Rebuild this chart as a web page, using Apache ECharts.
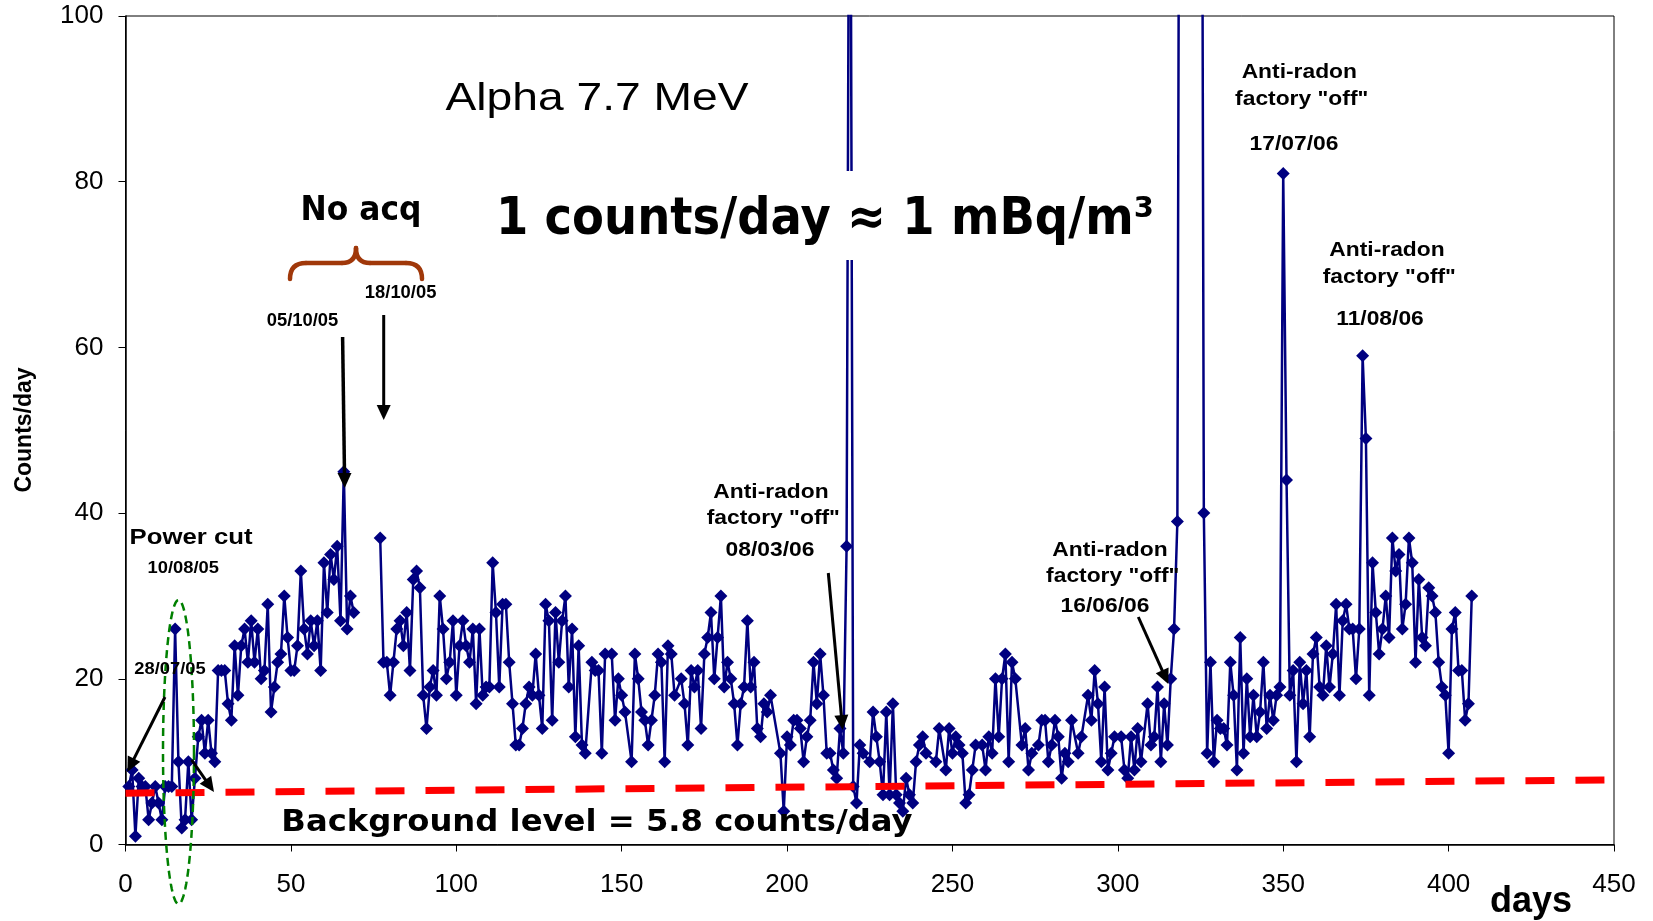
<!DOCTYPE html>
<html>
<head>
<meta charset="utf-8">
<script src="https://cdn.jsdelivr.net/npm/echarts@6/dist/echarts.min.js"></script>
<style>html,body{margin:0;padding:0;background:#fff}#c{width:1653px;height:921px}</style>
</head>
<body>
<div id="c"></div>
<script>
// ---- data ----
const days = [1,2,3,4,5,6,7,8,9,10,11,12,13,14,15,16,17,18,19,20,
  21,22,23,24,25,26,27,28,29,30,31,32,33,34,35,36,37,38,39,40,
  41,42,43,44,45,46,47,48,49,50,51,52,53,54,55,56,57,58,59,60,
  61,62,63,64,65,66,67,68,69,73,
  77,78,79,80,81,82,83,84,85,86,87,88,89,90,91,92,93,94,95,96,97,98,99,100,
  101,102,103,104,105,106,107,108,109,110,111,112,113,114,115,116,117,118,119,120,
  121,122,123,124,125,126,127,128,129,130,131,132,133,134,135,136,137,138,139,
  141,142,143,144,145,147,148,149,150,151,153,154,155,156,157,158,159,160,
  161,162,163,164,165,166,168,169,170,171,172,173,174,175,176,177,178,179,180,
  181,182,183,184,185,186,187,188,189,190,191,192,193,194,195,198,199,200,
  201,202,203,204,205,206,207,208,209,210,211,212,213,214,215,216,217,218,219,220,
  221,222,223,225,226,227,228,229,230,231,232,233,234,235,236,237,238,239,240,
  241,242,245,246,248,249,250,251,252,253,254,255,256,257,259,260,
  261,262,263,264,265,266,267,268,269,271,272,273,274,276,277,278,279,280,
  281,282,283,284,285,286,288,289,291,292,293,294,295,296,297,298,299,
  301,302,303,304,305,306,307,309,310,311,312,313,314,315,316,317,318,319,
  325,326,327,328,329,330,331,332,333,334,335,336,337,338,339,340,
  341,342,343,344,345,346,347,348,349,350,351,352,353,354,355,356,357,358,359,360,
  361,362,363,364,365,366,367,368,369,370,371,372,373,374,375,376,377,378,379,380,
  381,382,383,384,385,386,387,388,389,390,391,392,393,394,395,396,397,398,399,400,
  401,402,403,404,405,406,407];
const counts = [7,9,1,8,7,7,3,5,7,5,3,7,7,7,26,10,2,3,10,3,
  8,13,15,11,15,11,10,21,21,21,17,15,24,18,24,26,22,27,22,26,
  20,21,29,16,19,22,23,30,25,21,21,24,33,26,23,27,24,27,21,34,
  28,35,32,36,27,45,26,30,28,null,
  37,22,22,18,22,26,27,24,28,21,32,33,31,18,14,19,21,18,30,26,20,22,27,18,
  24,27,24,22,26,17,26,18,19,19,34,28,19,29,29,22,17,12,12,14,
  17,19,18,23,18,14,29,27,15,28,22,27,30,19,26,13,24,12,11,
  22,21,21,11,23,23,15,20,18,16,10,23,20,16,15,12,15,18,
  23,22,10,24,23,18,20,17,12,21,19,21,14,23,25,28,20,25,30,
  19,22,20,17,12,17,19,27,19,22,14,13,17,16,18,11,4,13,
  12,15,15,14,10,13,15,22,17,23,18,11,11,9,8,14,11,36,150,7,
  5,12,11,10,16,13,10,6,16,6,17,6,5,4,8,6,5,10,12,
  13,11,10,14,9,14,11,13,12,11,5,6,9,12,12,9,
  13,11,20,13,20,23,10,22,20,12,14,9,11,12,15,15,10,12,
  15,13,8,11,10,15,11,13,18,15,21,17,10,19,9,11,13,
  13,9,8,13,9,14,10,17,12,13,19,10,17,12,20,26,39,200,
  200,40,11,22,10,15,14,14,12,22,18,9,25,11,20,13,
  18,13,16,22,14,18,15,18,19,81,44,18,21,10,22,17,21,13,23,25,
  19,18,24,19,23,29,18,27,29,26,26,20,26,59,49,18,34,28,23,26,
  30,25,37,33,35,26,29,37,34,22,32,25,24,31,30,28,22,19,18,11,
  26,28,21,21,15,17,30];
const bgDays = [0, 450];
const bgLevels = [6.2, 7.8];
const xTicks = {min: 0, max: 450, step: 50};
const yTicks = {min: 0, max: 100, step: 20};

// ---- chart ----
const chart = echarts.init(document.getElementById('c'), null, {renderer: 'canvas'});

function arrow(x1, y1, x2, y2, w) {
  const dx = x2 - x1, dy = y2 - y1, L = Math.hypot(dx, dy), ux = dx / L, uy = dy / L;
  const hl = 15, hw = 7;
  const bx = x2 - ux * hl, by = y2 - uy * hl;
  return [
    {type: 'line', z: 100, shape: {x1: x1, y1: y1, x2: bx + ux * 2, y2: by + uy * 2}, style: {stroke: '#000', lineWidth: w || 3}},
    {type: 'polygon', z: 100, shape: {points: [[x2, y2], [bx - uy * hw, by + ux * hw], [bx + uy * hw, by - ux * hw]]}, style: {fill: '#000'}}
  ];
}
function txt(x, y, text, font, sx, extra) {
  return Object.assign({
    type: 'text', x: x, y: y, scaleX: sx || 1, z: 101,
    style: {text: text, font: font, fill: '#000', align: 'center', verticalAlign: 'middle'}
  }, extra || {});
}
function ellipsePts(cx, cy, rx, ry) {
  const pts = [];
  for (let k = 0; k <= 96; k++) {
    const t = k / 96 * Math.PI * 2;
    pts.push([cx + rx * Math.cos(t), cy + ry * Math.sin(t)]);
  }
  return pts;
}
const braceStyle = {stroke: '#A0380A', lineWidth: 4.5, fill: null, lineCap: 'round'};
function bz(x1, y1, cx, cy, x2, y2) {
  return {type: 'bezierCurve', z: 100, shape: {x1: x1, y1: y1, cpx1: cx, cpy1: cy, x2: x2, y2: y2}, style: braceStyle};
}
function seg(x1, y1, x2, y2) {
  return {type: 'line', z: 100, shape: {x1: x1, y1: y1, x2: x2, y2: y2}, style: braceStyle};
}
const ARB = 'bold 19.5px "Liberation Sans", Arial, sans-serif';
const COMIC = '"DejaVu Sans", sans-serif';

const graphics = [].concat(
  [
    {type: 'rect', z: 99, shape: {x: 492, y: 171, width: 666, height: 89}, style: {fill: '#fff'}},
    txt(825, 220, '1 counts/day \u2248 1 mBq/m\u00b3', 'bold 52px ' + COMIC, 0.895),
    txt(597, 99, 'Alpha 7.7 MeV', '39.5px "Liberation Sans", Arial, sans-serif', 1.17),
    txt(361, 211, 'No acq', 'bold 33px ' + COMIC, 0.95),
    txt(597, 823, 'Background level = 5.8 counts/day', 'bold 31px ' + COMIC, 1.04),
    bz(290, 279, 290, 263, 306, 263), seg(306, 263, 342, 263), bz(342, 263, 356, 263, 356, 248),
    bz(356, 248, 356, 263, 370, 263), seg(370, 263, 406, 263), bz(406, 263, 422, 263, 422, 279),
    {type: 'polyline', z: 100, shape: {points: ellipsePts(178.5, 752, 15.5, 152)},
      style: {stroke: '#008000', fill: null, lineWidth: 2.5, lineDash: [8, 5]}},
    txt(302.5, 321, '05/10/05', 'bold 17.5px "Liberation Sans", Arial, sans-serif', 1.05),
    txt(400.6, 293, '18/10/05', 'bold 17.5px "Liberation Sans", Arial, sans-serif', 1.05),
    txt(191, 538, 'Power cut', 'bold 22px "Liberation Sans", Arial, sans-serif', 1.17),
    txt(183.3, 569, '10/08/05', 'bold 15.7px "Liberation Sans", Arial, sans-serif', 1.17),
    txt(170, 670, '28/07/05', 'bold 15.7px "Liberation Sans", Arial, sans-serif', 1.17),
    txt(771, 492.7, 'Anti-radon', ARB, 1.17),
    txt(773.3, 518.3, 'factory "off"', ARB, 1.17),
    txt(770, 551, '08/03/06', ARB, 1.17),
    txt(1110, 551, 'Anti-radon', ARB, 1.17),
    txt(1112.7, 577, 'factory "off"', ARB, 1.17),
    txt(1105, 607, '16/06/06', ARB, 1.17),
    txt(1299.3, 72.7, 'Anti-radon', ARB, 1.17),
    txt(1301.7, 99.3, 'factory "off"', ARB, 1.17),
    txt(1294, 144.3, '17/07/06', ARB, 1.17),
    txt(1387, 251, 'Anti-radon', ARB, 1.17),
    txt(1389.3, 277.7, 'factory "off"', ARB, 1.17),
    txt(1380, 319.3, '11/08/06', ARB, 1.17),
    txt(25, 430, 'Counts/day', 'bold 23px "Liberation Sans", Arial, sans-serif', 1, {rotation: Math.PI / 2}),
    txt(1531, 902, 'days', 'bold 36px "Liberation Sans", Arial, sans-serif', 1)
  ],
  arrow(342.6, 337, 344.7, 488, 3.5),
  arrow(383.7, 315, 383.7, 420, 3),
  arrow(165, 697, 127.3, 772, 3),
  arrow(191.7, 760, 214, 792, 3),
  arrow(828.3, 573, 842.7, 730, 3),
  arrow(1138.3, 617, 1168.3, 684, 3)
);

const axisFont = {color: '#000', fontSize: 26, fontFamily: '"Liberation Sans", Arial, sans-serif'};
chart.setOption({
  animation: false,
  backgroundColor: '#fff',
  grid: {left: 125.5, right: 39, top: 16, bottom: 76.5, show: true, borderColor: '#000', borderWidth: 1},
  xAxis: {
    type: 'value', min: xTicks.min, max: xTicks.max, interval: xTicks.step,
    axisLine: {onZero: false, lineStyle: {color: '#000', width: 1.5}},
    axisTick: {inside: false, length: 7, lineStyle: {color: '#000'}},
    axisLabel: Object.assign({margin: 27}, axisFont),
    splitLine: {show: false}
  },
  yAxis: {
    type: 'value', min: yTicks.min, max: yTicks.max, interval: yTicks.step,
    axisLine: {show: true, lineStyle: {color: '#000', width: 1.5}},
    axisTick: {show: true, inside: false, length: 7, lineStyle: {color: '#000'}},
    axisLabel: Object.assign({margin: 22}, axisFont),
    splitLine: {show: false}
  },
  series: [
    {
      type: 'line', name: 'Alpha 7.7 MeV',
      data: days.map((d, i) => [d, counts[i]]),
      connectNulls: false,
      symbol: 'diamond', symbolSize: 13,
      itemStyle: {color: '#000080'},
      lineStyle: {color: '#000080', width: 2.5},
      z: 3
    },
    {
      type: 'line', name: 'Background level',
      data: bgDays.map((d, i) => [d, bgLevels[i]]),
      symbol: 'none',
      lineStyle: {color: '#ff0000', width: 7, type: [29, 21]},
      z: 4
    }
  ],
  graphic: graphics
});
</script>
</body>
</html>
